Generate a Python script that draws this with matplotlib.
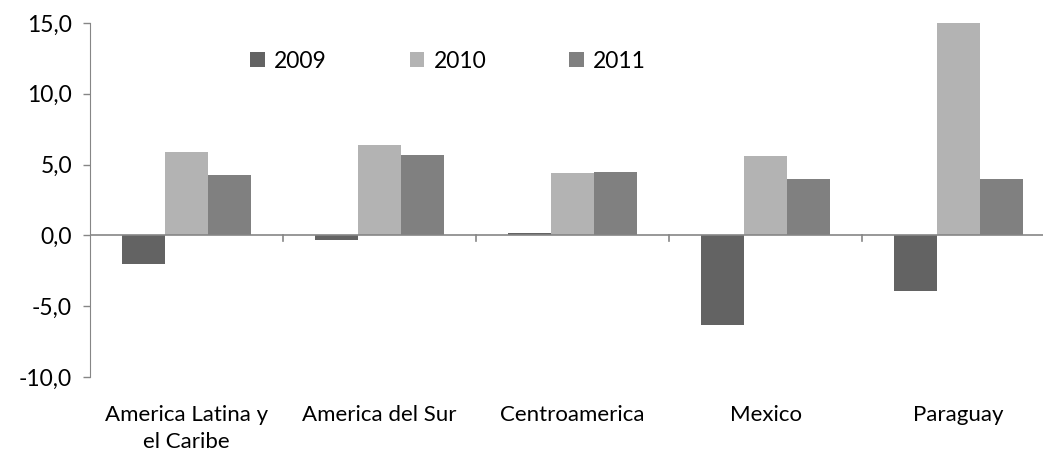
import matplotlib.pyplot as plt
import numpy as np
from matplotlib.ticker import FixedLocator, FuncFormatter

# regions and growth values
regiones = ['America Latina y\nel Caribe', 'America del Sur', 'Centroamerica', 'Mexico', 'Paraguay']
anios = ['2009', '2010', '2011']
v2009 = [-2.0, -0.3, 0.2, -6.3, -3.9]
v2010 = [5.9, 6.4, 4.4, 5.6, 15.0]
v2011 = [4.3, 5.7, 4.5, 4.0, 4.0]
colores = ['#636363', '#b3b3b3', '#808080']

plt.rcParams['font.family'] = ['Lato', 'DejaVu Sans']

fig = plt.figure(figsize=(10.43, 4.54), dpi=100)
# the x axis runs a bit past the right edge in the original
ax = fig.add_axes([90/1043, 1 - 377/454, 965/1043, (377 - 23)/454])

x = np.arange(len(regiones))
w = 0.222
for k, (vals, c, lab) in enumerate(zip([v2009, v2010, v2011], colores, anios)):
    ax.bar(x + (k - 1)*w, vals, width=w, color=c, label=lab, zorder=2)

ax.set_xlim(-0.5, len(regiones) - 0.5)
ax.set_ylim(-10, 15)
ax.set_yticks(np.arange(-10, 16, 5))
ax.yaxis.set_major_formatter(FuncFormatter(lambda v, p: ('%.1f' % v).replace('.', ',')))

# x axis sits on the zero line
for s in ['top', 'right', 'bottom']:
    ax.spines[s].set_visible(False)
ax.spines['left'].set_color('#868686')
ax.axhline(0, color='#868686', lw=1.2, zorder=3)

ax.xaxis.set_major_locator(FixedLocator(np.arange(0.5, len(regiones) - 0.5, 1)))
ax.xaxis.set_minor_locator(FixedLocator(x))
ax.set_xticklabels([], minor=False)
ax.set_xticklabels(regiones, minor=True, fontsize=16, linespacing=1.45)
ax.tick_params(axis='x', which='major', length=0)
ax.tick_params(axis='x', which='minor', length=0, pad=20)
ax.tick_params(axis='y', labelsize=16.5, color='#868686', length=5, width=1, pad=8)

# boundary ticks hang down from the zero line
for b in np.arange(0.5, len(regiones) - 0.5, 1):
    ax.plot([b, b], [0, -0.4], color='#868686', lw=1.2, zorder=3)

leg = ax.legend(loc='center', bbox_to_anchor=(0.371, 0.892), ncol=3, frameon=False,
                fontsize=16.5, handlelength=0.65, handleheight=0.65, columnspacing=3.6,
                handletextpad=0.4)

fig.savefig('out.png', dpi=100)
